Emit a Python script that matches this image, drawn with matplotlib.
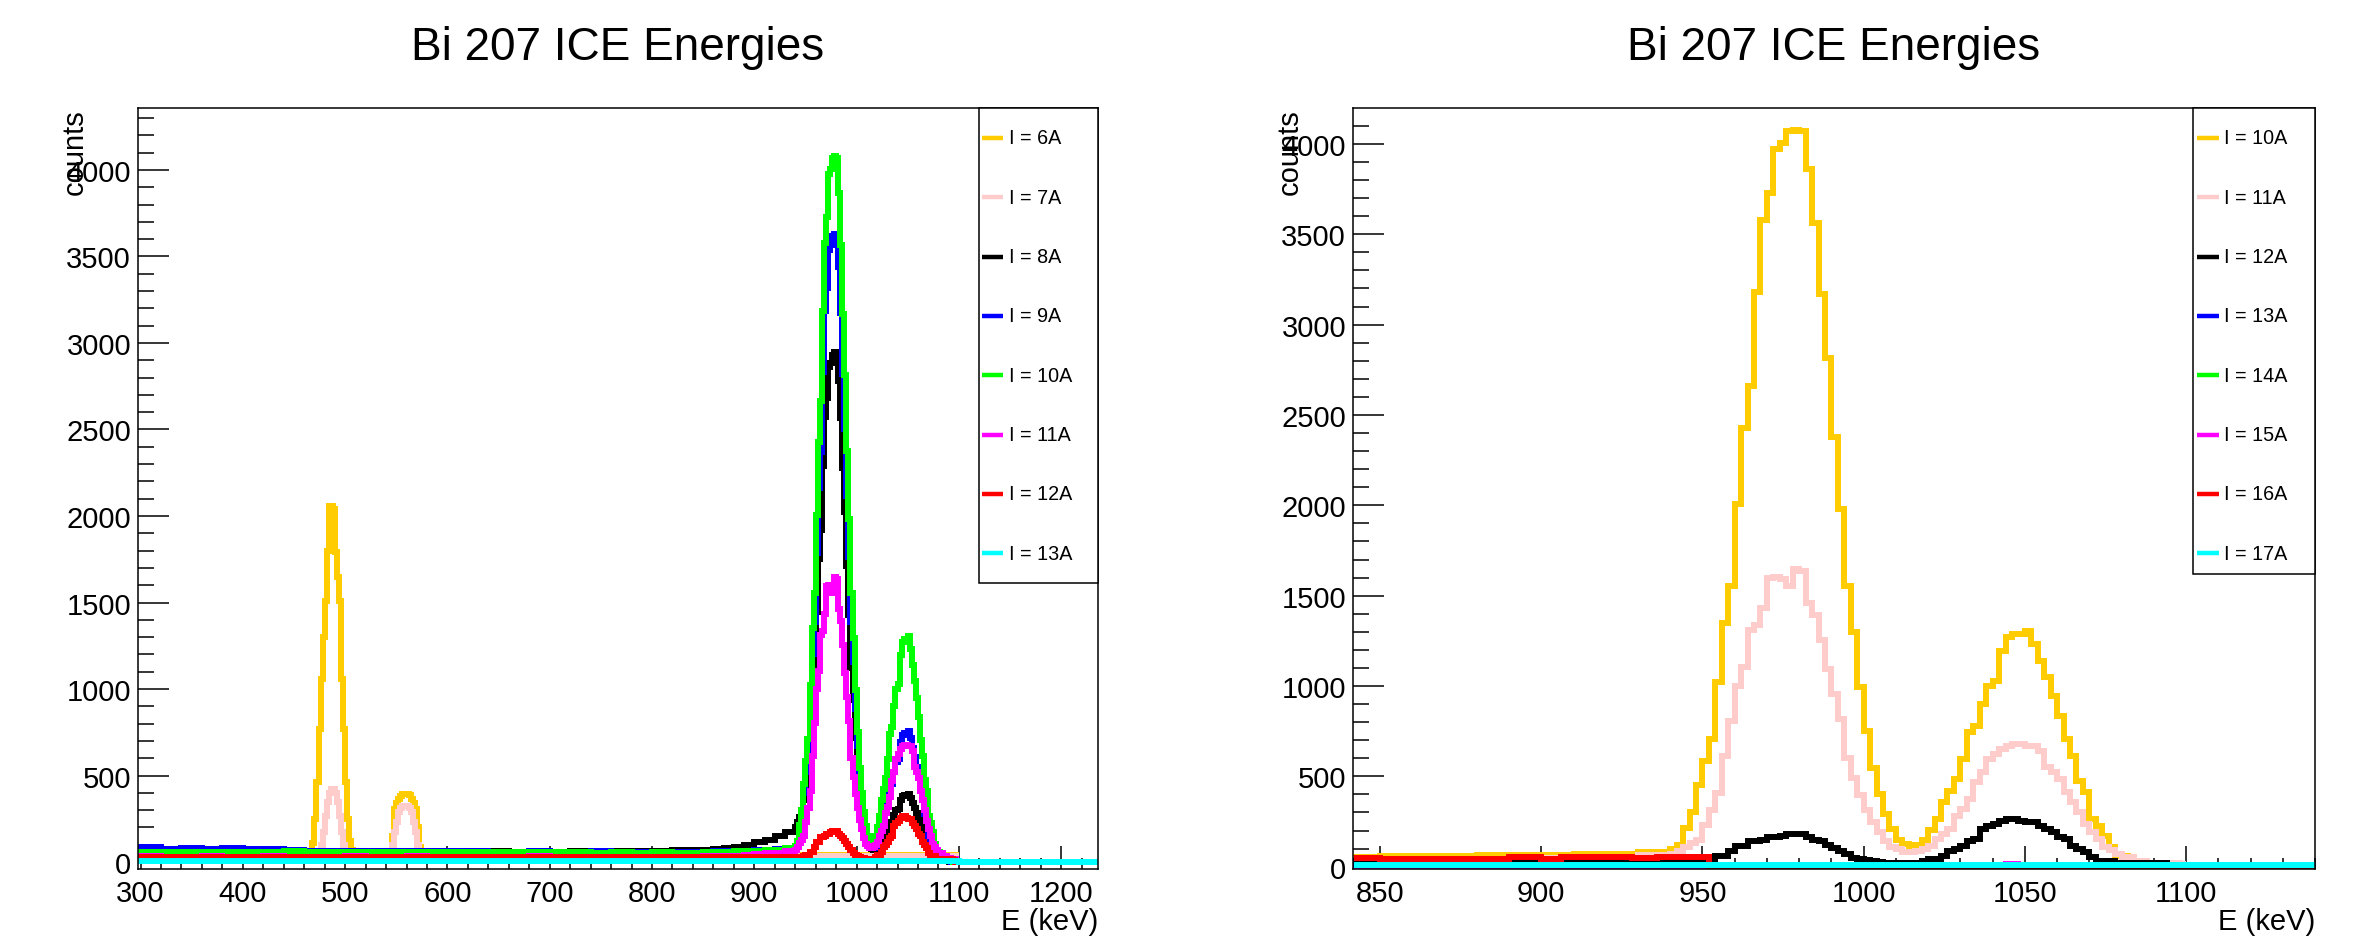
import matplotlib
matplotlib.use('Agg')
import matplotlib.pyplot as plt
from matplotlib.ticker import MultipleLocator
from matplotlib.lines import Line2D
from matplotlib.patches import Rectangle

plt.rcParams['font.family'] = ['Liberation Sans', 'DejaVu Sans']

# ---------------- data (counts per bin, energies in keV) ----------------
# shared bin edges for 8A..12A : coarse baseline, then 2 keV bins over the peaks
edges_main = [296] + list(range(300, 840, 20)) + list(range(840, 940, 10)) + list(range(940, 1102, 2))
# bin edges for 6A / 7A
edges_low = [296, 380] + list(range(464, 514, 2)) + list(range(544, 578, 2)) + [700, 850, 1000, 1100]

c_6A = [50, 48,
        55, 60, 110, 249, 461, 769, 1058, 1300, 1510, 1800, 2060, 2060, 2040, 1790, 1650, 1510,
        1058, 769, 461, 249, 120, 70, 55, 50,
        50,
        55, 150, 306, 340, 364, 380, 393, 393, 393, 385, 364, 340, 306, 200, 90, 55,
        48, 45, 42, 40]
c_7A = [45, 44,
        45, 45, 45, 45, 50, 60, 100, 173, 268, 347, 400, 422, 420, 400, 347, 268,
        173, 100, 60, 50, 45, 45, 45, 45,
        44,
        45, 100, 171, 229, 287, 310, 325, 325, 325, 310, 287, 229, 171, 100, 50, 45,
        42, 40, 38, 35]
c_8A = [62, 65, 63, 66, 64, 62, 65, 63, 64, 62, 65, 63, 66, 64, 62, 63, 61, 64, 62, 60,
        63, 61, 62, 60, 62, 64, 66, 68, 70, 72, 75, 80, 88, 100, 115, 130, 150, 175,
        200, 230, 260, 300, 360, 422, 510, 737, 973, 1120, 1445, 1750, 1917, 2291, 2575,
        2684, 2861, 2884, 2930, 2950, 2930, 2782, 2566, 2280, 2025, 1711, 1426, 1120, 934,
        717, 540, 393, 288, 209, 151, 110, 90, 75, 70, 70, 75, 85, 107, 126, 146, 179, 223,
        234, 270, 300, 309, 358, 381, 386, 387, 392, 370, 342, 314, 284, 251, 212, 184, 143,
        123, 79, 68, 51, 32, 18, 18, 15, 10, 10, 5, 2, 0, 0, 0, 0]
c_9A = [80, 85, 78, 82, 76, 80, 75, 78, 72, 66, 64, 66, 63, 64, 62, 64, 62, 63, 61, 60,
        62, 61, 60, 62, 58, 60, 59, 58, 60, 60, 62, 62, 64, 66, 68, 70, 74, 78,
        85, 107, 191, 267, 400, 522, 631, 910, 1202, 1385, 1786, 2163, 2369, 2832, 3184,
        3318, 3537, 3564, 3621, 3631, 3621, 3439, 3172, 2819, 2504, 2115, 1762, 1385, 1154,
        886, 668, 486, 356, 258, 187, 120, 95, 80, 80, 95, 119, 153, 206, 244, 281, 346, 431,
        452, 522, 581, 597, 693, 736, 747, 748, 757, 715, 661, 608, 549, 485, 409, 356, 276,
        238, 153, 132, 99, 62, 35, 35, 30, 19, 19, 9, 5, 3, 2, 0, 0]
c_10A = [56, 58, 60, 57, 61, 59, 57, 60, 62, 59, 58, 60, 57, 61, 59, 58, 60, 56, 58, 60,
         57, 56, 58, 55, 57, 55, 56, 54, 52, 57, 60, 58, 62, 64, 66, 68, 72, 80,
         95, 120, 215, 300, 450, 586, 709, 1023, 1351, 1556, 2007, 2430, 2662, 3182, 3577,
         3728, 3974, 4005, 4069, 4080, 4069, 3864, 3564, 3167, 2813, 2376, 1980, 1556, 1297,
         996, 750, 546, 400, 290, 210, 150, 125, 110, 122, 150, 205, 264, 356, 420, 485, 596,
         743, 780, 900, 1002, 1029, 1195, 1269, 1288, 1290, 1306, 1232, 1140, 1048, 946, 836,
         706, 614, 476, 411, 264, 227, 171, 107, 60, 60, 51, 33, 33, 15, 8, 5, 3, 0, 0]
c_11A = [32, 33, 31, 32, 34, 31, 32, 33, 31, 32, 30, 33, 31, 32, 33, 31, 32, 30, 32, 31,
         33, 30, 32, 31, 32, 30, 31, 32, 32, 33, 34, 35, 38, 42, 46, 50, 55, 62,
         70, 85, 108, 130, 149, 231, 313, 409, 613, 805, 1000, 1106, 1310, 1338, 1433,
         1597, 1602, 1590, 1556, 1650, 1638, 1461, 1392, 1256, 1092, 955, 818, 600, 490,
         395, 313, 245, 190, 140, 107, 95, 79, 79, 88, 100, 116, 153, 180, 208, 282, 319, 374,
         467, 522, 596, 623, 651, 669, 679, 679, 669, 669, 642, 550, 522, 485, 411, 356, 300,
         236, 190, 153, 107, 90, 70, 51, 51, 33, 33, 22, 22, 20, 20, 20, 15]
c_12A = [30, 31, 30, 32, 30, 31, 29, 30, 31, 30, 32, 30, 31, 30, 29, 31, 30, 32, 30, 31,
         30, 29, 31, 30, 31, 30, 32, 31, 30, 31, 30, 32, 31, 30, 31, 32, 31, 32,
         32, 32, 32, 32, 35, 42, 42, 60, 60, 88, 116, 116, 143, 143, 150, 162, 165, 171,
         180, 180, 178, 165, 150, 140, 120, 105, 88, 70, 50, 42, 35, 30, 25, 22, 20, 20, 20,
         20, 20, 30, 42, 42, 60, 88, 100, 116, 140, 153, 208, 227, 236, 254, 264, 264, 254,
         249, 249, 227, 208, 190, 162, 153, 116, 97, 79, 51, 33, 33, 33, 20, 20, 20, 20, 20,
         20, 20, 20, 10, 0, 0]
edges_13A = [296, 400, 500, 600, 700, 800, 900, 1000, 1100, 1236]
c_13A = [6, 5, 6, 5, 6, 4, 5, 4, 3]
edges_14A = [842, 1140]
c_14A = [0]
edges_15A = [842, 1044, 1048, 1140]
c_15A = [0, 15, 0]
edges_16A = [842, 850, 890, 900, 906, 928, 936, 952, 1140]
c_16A = [48, 42, 55, 45, 52, 46, 52, 0]
edges_17A = [842, 1140]
c_17A = [8]

hists = {
    '6A': (edges_low, c_6A), '7A': (edges_low, c_7A), '8A': (edges_main, c_8A),
    '9A': (edges_main, c_9A), '10A': (edges_main, c_10A), '11A': (edges_main, c_11A),
    '12A': (edges_main, c_12A), '13A': (edges_13A, c_13A), '14A': (edges_14A, c_14A),
    '15A': (edges_15A, c_15A), '16A': (edges_16A, c_16A), '17A': (edges_17A, c_17A),
}
left_currents = ['6A', '7A', '8A', '9A', '10A', '11A', '12A', '13A']
right_currents = ['10A', '11A', '12A', '13A', '14A', '15A', '16A', '17A']
colors = ['#ffcc00', '#ffcccc', '#000000', '#0000ff', '#00ff00', '#ff00ff', '#ff0000', '#00ffff']
title = 'Bi 207 ICE Energies'

# ---------------- figure ----------------
W, H = 2356, 945
fig = plt.figure(figsize=(W / 100, H / 100), dpi=100)
axL = fig.add_axes([138 / W, 75 / H, 960 / W, 761 / H])
axR = fig.add_axes([1353 / W, 75 / H, 962 / W, 761 / H])


def style(ax, xlim, ylim, xmajor, xminor, ylab_x, leg_box, leg_line, leg_text, currents):
    for cur, col in zip(currents, colors):
        e, c = hists[cur]
        ax.stairs(c, e, baseline=None, color=col, linewidth=4.3, joinstyle='miter', zorder=2)
    ax.set_xlim(*xlim)
    ax.set_ylim(*ylim)
    ax.xaxis.set_major_locator(MultipleLocator(xmajor))
    ax.xaxis.set_minor_locator(MultipleLocator(xminor))
    ax.yaxis.set_major_locator(MultipleLocator(500))
    ax.yaxis.set_minor_locator(MultipleLocator(100))
    ax.tick_params(which='both', direction='in', top=False, right=False, width=1.1,
                   labelsize=21, color='black')
    ax.tick_params(axis='y', which='major', length=22, pad=5)
    ax.tick_params(axis='y', which='minor', length=11.5)
    ax.tick_params(axis='x', which='major', length=16.5, pad=7)
    ax.tick_params(axis='x', which='minor', length=8)
    for sp in ax.spines.values():
        sp.set_linewidth(1.1)
    ax.set_title(title, fontsize=33, y=1.08, va='center', pad=0)
    ax.set_xlabel('E (keV)', fontsize=21, loc='right')
    ax.xaxis.set_label_coords(1.0, -0.0683)
    ax.xaxis.label.set_va('center')
    ax.set_ylabel('counts', fontsize=21, loc='top')
    ax.yaxis.set_label_coords(ylab_x, 1.0)
    ax.yaxis.label.set_va('center')
    # legend (ROOT TLegend style)
    x0, y0 = leg_box
    ax.add_patch(Rectangle((x0, y0), 1 - x0, 1 - y0, transform=ax.transAxes,
                           facecolor='white', edgecolor='black', linewidth=1.1,
                           zorder=5, clip_on=False))
    for i, (cur, col) in enumerate(zip(currents, colors)):
        yf = (870 - (139 + 59.3 * i)) / 761
        ax.add_line(Line2D(leg_line, [yf, yf], transform=ax.transAxes, color=col,
                           linewidth=3.2, solid_capstyle='butt', zorder=6))
        ax.text(leg_text, yf, 'I = ' + cur, transform=ax.transAxes, fontsize=14.2,
                ha='left', va='center', zorder=6)


style(axL, (297.5, 1236), (-40, 4358), 100, 20, -0.066,
      ((979 - 138) / 960, (870 - 584) / 761),
      [(982 - 138) / 960, (1003 - 138) / 960], (1009 - 138) / 960, left_currents)
style(axR, (841.6, 1140), (-13, 4199), 50, 10, -0.066,
      ((2193 - 1353) / 962, (870 - 575) / 761),
      [(2197 - 1353) / 962, (2219 - 1353) / 962], (2224 - 1353) / 962, right_currents)

fig.savefig('out.png', dpi=100, facecolor='white')
